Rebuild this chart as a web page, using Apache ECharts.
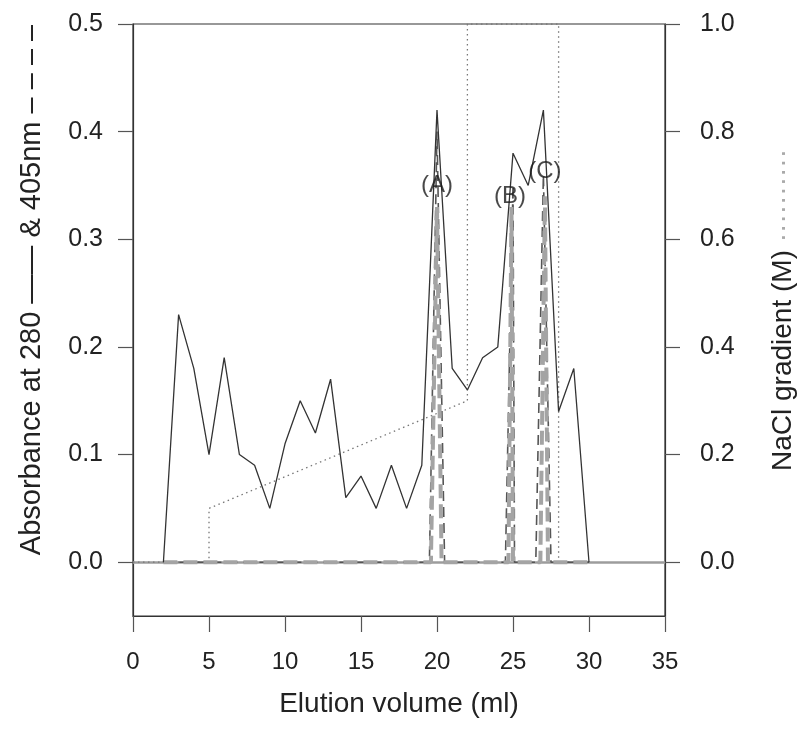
<!DOCTYPE html>
<html>
<head>
<meta charset="utf-8">
<script src="https://cdn.jsdelivr.net/npm/echarts@6/dist/echarts.min.js"></script>
<style>html,body{margin:0;padding:0;background:#fff}#c{width:802px;height:733px}</style>
</head>
<body>
<div id="c"></div>
<script>
// Absorbance at 280 nm (solid)
const a280X = [2,3,4,5,6,7,8,9,10,11,12,13,14,15,16,17,18,19,20,21,22,23,24,25,26,27,28,29,30];
const a280Y = [0,0.23,0.18,0.10,0.19,0.10,0.09,0.05,0.11,0.15,0.12,0.17,0.06,0.08,0.05,0.09,0.05,0.09,0.42,0.18,0.16,0.19,0.20,0.38,0.35,0.42,0.14,0.18,0];
// Absorbance at 405 nm (dark dashed)
const a405X = [2,19.5,20,20.5,24.5,25,25.1,26.5,27,27.5,30];
const a405Y = [0,0,0.40,0,0,0.35,0,0,0.36,0,0];
// Second 405 nm trace (light grey dashed)
const a405bX = [2,19.6,20,20.3,24.7,24.9,25,26.8,27.1,27.3,30];
const a405bY = [0,0,0.33,0,0,0.33,0,0,0.34,0,0];
// NaCl gradient (dotted, right axis)
const naclX = [0,5,5,22,22,28,28,30];
const naclY = [0,0,0.1,0.3,1.0,1.0,0,0];
// Peak labels
const peakNames = ['(A)','(B)','(C)'];
const peakX = [20,24.8,27.1];
const peakY = [0.35,0.34,0.363];
// Tick labels
const xTicks = [0,5,10,15,20,25,30,35];
const leftTicks = [0,0.1,0.2,0.3,0.4,0.5];
const rightTicks = [0,0.2,0.4,0.6,0.8,1.0];

const zip = (xs, ys) => xs.map((x, i) => [x, ys[i]]);
const FONT = 'Liberation Sans, Arial, Helvetica, sans-serif';

const chart = echarts.init(document.getElementById('c'), null, {renderer: 'canvas'});
chart.setOption({
  animation: false,
  backgroundColor: '#fff',
  grid: {left: 133, right: 137, top: 24, bottom: 117, show: true, borderColor: '#333', borderWidth: 1.2, backgroundColor: 'transparent'},
  xAxis: {
    type: 'value', min: 0, max: 35, interval: 5,
    axisLine: {show: true, onZero: false, lineStyle: {color: '#333', width: 1.2}},
    axisTick: {show: true, inside: false, length: 16, lineStyle: {color: '#555', width: 1.2}, customValues: xTicks},
    axisLabel: {color: '#222', fontSize: 24, fontFamily: FONT, margin: 34, customValues: xTicks},
    splitLine: {show: false}
  },
  yAxis: [{
    type: 'value', min: -0.05, max: 0.5, position: 'left',
    axisLine: {show: true, onZero: false, lineStyle: {color: '#333', width: 1.2}},
    axisTick: {show: true, inside: false, length: 15, lineStyle: {color: '#555', width: 1.2}, customValues: leftTicks},
    axisLabel: {color: '#222', fontSize: 25, fontFamily: FONT, margin: 30, customValues: leftTicks, formatter: v => v.toFixed(1)},
    splitLine: {show: false}
  }, {
    type: 'value', min: -0.1, max: 1.0, position: 'right',
    axisLine: {show: true, onZero: false, lineStyle: {color: '#333', width: 1.2}},
    axisTick: {show: true, inside: false, length: 15, lineStyle: {color: '#555', width: 1.2}, customValues: rightTicks},
    axisLabel: {color: '#222', fontSize: 25, fontFamily: FONT, margin: 35, customValues: rightTicks, formatter: v => v.toFixed(1)},
    splitLine: {show: false}
  }],
  series: [{
    type: 'line', name: 'NaCl', yAxisIndex: 1, data: zip(naclX, naclY), showSymbol: false, silent: true,
    lineStyle: {color: '#777', width: 1.3, type: [1.5, 3.5]}, z: 3
  }, {
    type: 'line', name: 'A405', data: zip(a405X, a405Y), showSymbol: false, silent: true,
    lineStyle: {color: '#555', width: 1.6, type: [10, 6]}, z: 4
  }, {
    type: 'line', name: 'A405b', data: zip(a405bX, a405bY), showSymbol: false, silent: true,
    lineStyle: {color: '#a4a4a4', width: 4, type: [14, 6]}, z: 5,
    markLine: {silent: true, symbol: 'none', label: {show: false},
      lineStyle: {color: '#9c9c9c', width: 2.5, type: 'solid'}, data: [{yAxis: 0}], z: 2}
  }, {
    type: 'line', name: 'A280', data: zip(a280X, a280Y), showSymbol: false, silent: true,
    lineStyle: {color: '#333', width: 1.3}, z: 6
  }, {
    type: 'scatter', name: 'peaks', data: peakX.map((x, i) => ({value: [x, peakY[i]], name: peakNames[i]})),
    symbolSize: 0, silent: true, z: 7,
    label: {show: true, position: 'inside', formatter: p => p.name, color: '#1a1a1a', fontSize: 24, fontFamily: FONT}
  }],
  graphic: [{
    type: 'text', x: 32, y: 290, rotation: Math.PI / 2,
    style: {text: 'Absorbance at 280 —— & 405nm – – – –', font: '29px ' + FONT, fill: '#222', align: 'center', verticalAlign: 'middle'}
  }, {
    type: 'text', x: 783, y: 310, rotation: Math.PI / 2,
    style: {text: '{a|NaCl gradient (M) }{b|··········}', align: 'center', verticalAlign: 'middle',
      rich: {a: {font: '28px ' + FONT, fill: '#222'}, b: {font: '28px ' + FONT, fill: '#aaa'}}}
  }, {
    type: 'text', x: 399, y: 704,
    style: {text: 'Elution volume (ml)', font: '28px ' + FONT, fill: '#222', align: 'center', verticalAlign: 'middle'}
  }]
});
</script>
</body>
</html>
